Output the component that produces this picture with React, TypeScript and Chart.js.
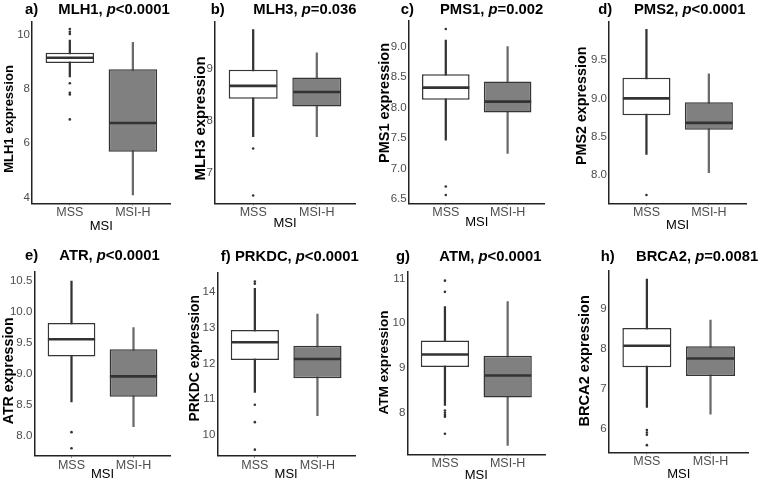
import React, { useEffect, useRef } from 'react';
import { Chart, registerables } from 'chart.js';

Chart.register(...registerables);

// ---------- data ----------
const GROUPS = ['MSS', 'MSI-H'];
const X_TITLE = 'MSI';
const LETTERS = ['a)', 'b)', 'c)', 'd)', 'e)', 'f)', 'g)', 'h)'];
const GENES = ['MLH1', 'MLH3', 'PMS1', 'PMS2', 'ATR', 'PRKDC', 'ATM', 'BRCA2'];
const P_TEXT = ['<0.0001', '=0.036', '=0.002', '<0.0001', '<0.0001', '<0.0001', '<0.0001', '=0.0081'];

// box statistics: [lower whisker, Q1, median, Q3, upper whisker]
const MLH1_MSS = [8.45, 8.96, 9.15, 9.34, 9.8];
const MLH1_MSIH = [4.1, 5.69, 6.75, 8.73, 9.72];
const MLH1_OUT_MSS = [10.21, 10.11, 10.03, 8.21, 7.86, 7.8, 6.88];
const MLH1_OUT_MSIH: number[] = [];
const MLH1_TICKS = ['4', '6', '8', '10'];
const MLH1_RANGE = [3.79, 10.48];

const MLH3_MSS = [7.7, 8.43, 8.68, 8.99, 9.77];
const MLH3_MSIH = [7.7, 8.28, 8.56, 8.84, 9.32];
const MLH3_OUT_MSS = [7.47, 6.56];
const MLH3_OUT_MSIH: number[] = [];
const MLH3_TICKS = ['7', '8', '9'];
const MLH3_RANGE = [6.41, 9.92];

const PMS1_MSS = [7.47, 8.13, 8.33, 8.55, 9.11];
const PMS1_MSIH = [7.25, 7.92, 8.1, 8.43, 9.0];
const PMS1_OUT_MSS = [9.29, 6.71, 6.57];
const PMS1_OUT_MSIH: number[] = [];
const PMS1_TICKS = ['6.5', '7.0', '7.5', '8.0', '8.5', '9.0'];
const PMS1_RANGE = [6.434, 9.426];

const PMS2_MSS = [8.27, 8.78, 9.0, 9.27, 9.9];
const PMS2_MSIH = [8.03, 8.59, 8.68, 8.95, 9.32];
const PMS2_OUT_MSS = [7.74];
const PMS2_OUT_MSIH: number[] = [];
const PMS2_TICKS = ['8.0', '8.5', '9.0', '9.5'];
const PMS2_RANGE = [7.631, 10.0];

const ATR_MSS = [8.55, 9.28, 9.56, 9.82, 10.5];
const ATR_MSIH = [8.15, 8.63, 8.96, 9.4, 9.75];
const ATR_OUT_MSS = [8.06, 7.8];
const ATR_OUT_MSIH: number[] = [];
const ATR_TICKS = ['8.0', '8.5', '9.0', '9.5', '10.0', '10.5'];
const ATR_RANGE = [7.68, 10.65];

const PRKDC_MSS = [11.19, 12.1, 12.6, 12.94, 14.11];
const PRKDC_MSIH = [10.54, 11.59, 12.13, 12.5, 13.39];
const PRKDC_OUT_MSS = [14.3, 14.24, 10.85, 10.36, 9.59];
const PRKDC_OUT_MSIH: number[] = [];
const PRKDC_TICKS = ['10', '11', '12', '13', '14'];
const PRKDC_RANGE = [9.42, 14.56];

const ATM_MSS = [8.16, 9.02, 9.3, 9.61, 10.37];
const ATM_MSIH = [7.27, 8.34, 8.83, 9.27, 10.48];
const ATM_OUT_MSS = [10.95, 10.7, 8.05, 8.0, 7.95, 7.91, 7.53];
const ATM_OUT_MSIH: number[] = [];
const ATM_TICKS = ['8', '9', '10', '11'];
const ATM_RANGE = [7.07, 11.15];

const BRCA2_MSS = [6.53, 7.54, 8.08, 8.53, 9.76];
const BRCA2_MSIH = [6.36, 7.32, 7.76, 8.07, 8.73];
const BRCA2_OUT_MSS = [5.96, 5.9, 5.84, 5.58];
const BRCA2_OUT_MSIH: number[] = [];
const BRCA2_TICKS = ['6', '7', '8', '9'];
const BRCA2_RANGE = [5.4, 9.97];

const PANEL_DATA = [
  { mss: MLH1_MSS, msih: MLH1_MSIH, outMss: MLH1_OUT_MSS, outMsih: MLH1_OUT_MSIH, ticks: MLH1_TICKS, range: MLH1_RANGE },
  { mss: MLH3_MSS, msih: MLH3_MSIH, outMss: MLH3_OUT_MSS, outMsih: MLH3_OUT_MSIH, ticks: MLH3_TICKS, range: MLH3_RANGE },
  { mss: PMS1_MSS, msih: PMS1_MSIH, outMss: PMS1_OUT_MSS, outMsih: PMS1_OUT_MSIH, ticks: PMS1_TICKS, range: PMS1_RANGE },
  { mss: PMS2_MSS, msih: PMS2_MSIH, outMss: PMS2_OUT_MSS, outMsih: PMS2_OUT_MSIH, ticks: PMS2_TICKS, range: PMS2_RANGE },
  { mss: ATR_MSS, msih: ATR_MSIH, outMss: ATR_OUT_MSS, outMsih: ATR_OUT_MSIH, ticks: ATR_TICKS, range: ATR_RANGE },
  { mss: PRKDC_MSS, msih: PRKDC_MSIH, outMss: PRKDC_OUT_MSS, outMsih: PRKDC_OUT_MSIH, ticks: PRKDC_TICKS, range: PRKDC_RANGE },
  { mss: ATM_MSS, msih: ATM_MSIH, outMss: ATM_OUT_MSS, outMsih: ATM_OUT_MSIH, ticks: ATM_TICKS, range: ATM_RANGE },
  { mss: BRCA2_MSS, msih: BRCA2_MSIH, outMss: BRCA2_OUT_MSS, outMsih: BRCA2_OUT_MSIH, ticks: BRCA2_TICKS, range: BRCA2_RANGE },
];

// ---------- layout (pixel geometry of each panel's plot area and titles) ----------
const LAYOUT = [
  { left: 32, right: 170.7, top: 21.7, bottom: 203.3, yTitleCx: 9.3, yTitleCy: 119, yTitleSize: 13, xTitleOff: 23.4, letterX: 25, mainX: 58.3, baseline: 13.5 },
  { left: 215, right: 355, top: 21.7, bottom: 203.3, yTitleCx: 200.5, yTitleCy: 118.5, yTitleSize: 15, xTitleOff: 20, letterX: 210.7, mainX: 253.3, baseline: 13.5 },
  { left: 408.7, right: 544.7, top: 20.7, bottom: 203.3, yTitleCx: 385, yTitleCy: 103, yTitleSize: 14.5, xTitleOff: 19.5, letterX: 400.7, mainX: 440, baseline: 13.5 },
  { left: 609, right: 746.3, top: 21.7, bottom: 203.3, yTitleCx: 582, yTitleCy: 105.8, yTitleSize: 14.3, xTitleOff: 21.7, letterX: 598.3, mainX: 634, baseline: 13.5 },
  { left: 34.3, right: 170.7, top: 271.7, bottom: 455.7, yTitleCx: 9, yTitleCy: 370.8, yTitleSize: 14.2, xTitleOff: 18.5, letterX: 25, mainX: 59.3, baseline: 260 },
  { left: 217.3, right: 355, top: 272.3, bottom: 455.7, yTitleCx: 195, yTitleCy: 358.3, yTitleSize: 13.9, xTitleOff: 18.5, letterX: 220.7, mainX: 235, baseline: 260.5 },
  { left: 407.3, right: 545.3, top: 271.7, bottom: 454.3, yTitleCx: 384, yTitleCy: 362.5, yTitleSize: 13.6, xTitleOff: 21.5, letterX: 396, mainX: 439.3, baseline: 260.5 },
  { left: 608.7, right: 748.7, top: 270.7, bottom: 452.3, yTitleCx: 584.7, yTitleCy: 360.8, yTitleSize: 14.6, xTitleOff: 21.7, letterX: 600.7, mainX: 636, baseline: 260.5 },
];

const FAMILY = '"Liberation Sans", Arial, Helvetica, sans-serif';
const TITLE_SIZE = 14.8;

function makeGeometry(L: any) {
  const canvasLeft = Math.round(L.left - 36);
  const canvasTop = Math.round(L.top - 30);
  const width = Math.ceil(L.right + 14 - canvasLeft);
  const height = Math.ceil(L.bottom + 40 - canvasTop);
  return {
    canvasLeft,
    canvasTop,
    width,
    height,
    yAxisWidth: L.left - canvasLeft,
    padTop: L.top - canvasTop,
    padRight: width - (L.right - canvasLeft),
    xAxisHeight: height - (L.bottom - canvasTop),
  };
}

function Panel({ idx }: { idx: number }) {
  const ref = useRef<HTMLCanvasElement | null>(null);
  const L = LAYOUT[idx];
  const G = makeGeometry(L);

  useEffect(() => {
    const canvas = ref.current;
    if (!canvas) return;
    const D = PANEL_DATA[idx];
    const stats = [D.mss, D.msih];
    const tickLabels = D.ticks;

    const titlePlugin = {
      id: 'panelTitle' + idx,
      afterDraw(chart: any) {
        const ctx = chart.ctx;
        ctx.save();
        ctx.fillStyle = '#000';
        ctx.textAlign = 'left';
        ctx.textBaseline = 'alphabetic';
        const bold = `bold ${TITLE_SIZE}px ${FAMILY}`;
        const boldItalic = `italic bold ${TITLE_SIZE}px ${FAMILY}`;
        const y = L.baseline - G.canvasTop;
        ctx.font = bold;
        ctx.fillText(LETTERS[idx], L.letterX - G.canvasLeft, y);
        let x = L.mainX - G.canvasLeft;
        const parts: [string, string][] = [
          [GENES[idx] + ', ', bold],
          ['p', boldItalic],
          [P_TEXT[idx], bold],
        ];
        for (const [t, f] of parts) {
          ctx.font = f;
          ctx.fillText(t, x, y);
          x += ctx.measureText(t).width;
        }
        ctx.restore();

        // y-axis title (rotated)
        ctx.save();
        ctx.translate(L.yTitleCx - G.canvasLeft, L.yTitleCy - G.canvasTop);
        ctx.rotate(-Math.PI / 2);
        ctx.fillStyle = '#000';
        ctx.textAlign = 'center';
        ctx.textBaseline = 'middle';
        ctx.font = `bold ${L.yTitleSize}px ${FAMILY}`;
        ctx.fillText(GENES[idx] + ' expression', 0, 0);
        ctx.restore();
      },
    };

    const xTitleLH = 13 * 1.2;

    const chart = new Chart(canvas, {
      type: 'bar',
      data: {
        datasets: [
          {
            type: 'bar',
            label: 'whisker',
            data: GROUPS.map((_, i) => ({ x: i + 1, y: [stats[i][0], stats[i][4]] })),
            backgroundColor: ['#333333', '#6a6a6a'],
            borderWidth: 0,
            barThickness: 1.6,
            grouped: false,
            order: 3,
          } as any,
          {
            type: 'bar',
            label: 'box',
            data: GROUPS.map((_, i) => ({ x: i + 1, y: [stats[i][1], stats[i][3]] })),
            backgroundColor: ['#ffffff', '#808080'],
            borderColor: '#353535',
            borderWidth: 1.5,
            borderSkipped: false,
            grouped: false,
            categoryPercentage: 1,
            barPercentage: 0.77,
            order: 2,
          } as any,
          {
            type: 'line',
            label: 'median',
            data: GROUPS.map((_, i) => ({ x: i + 1, y: stats[i][2] })),
            showLine: false,
            pointStyle: 'line',
            pointRadius: 23.6,
            pointBorderWidth: 2.6,
            pointBorderColor: '#333333',
            order: 1,
          } as any,
          {
            type: 'line',
            label: 'outliers',
            data: [
              ...D.outMss.map((v) => ({ x: 1, y: v })),
              ...D.outMsih.map((v) => ({ x: 2, y: v })),
            ],
            showLine: false,
            pointStyle: 'circle',
            pointRadius: 1.3,
            pointBorderWidth: 0,
            pointBackgroundColor: '#333333',
            order: 0,
          } as any,
        ],
      },
      options: {
        animation: false,
        responsive: false,
        events: [],
        layout: { autoPadding: false, padding: { left: 0, top: G.padTop, right: G.padRight, bottom: 0 } },
        plugins: {
          legend: { display: false },
          tooltip: { enabled: false },
          title: { display: false },
        },
        scales: {
          x: {
            type: 'linear',
            min: 0.4,
            max: 2.6,
            offset: false,
            afterBuildTicks: (s: any) => {
              s.ticks = GROUPS.map((_, i) => ({ value: i + 1 }));
            },
            afterFit: (s: any) => {
              s.height = G.xAxisHeight;
            },
            ticks: {
              callback: (v: any) => GROUPS[Math.round(Number(v)) - 1] ?? '',
              font: { family: FAMILY, size: 12.5, lineHeight: 1.2 },
              color: '#4d4d4d',
              padding: 0,
              maxRotation: 0,
              autoSkip: false,
            },
            grid: { offset: false, drawOnChartArea: false, drawTicks: true, tickLength: 2, color: '#555555', lineWidth: 1 },
            border: { display: true, color: '#222222', width: 1.5 },
            title: {
              display: true,
              text: X_TITLE,
              color: '#000',
              font: { family: FAMILY, size: 13, lineHeight: 1.2 },
              padding: { top: 0, bottom: G.xAxisHeight - L.xTitleOff - xTitleLH / 2 },
            },
          },
          y: {
            type: 'linear',
            min: D.range[0],
            max: D.range[1],
            offset: false,
            afterBuildTicks: (s: any) => {
              s.ticks = tickLabels.map((t) => ({ value: parseFloat(t) }));
            },
            afterFit: (s: any) => {
              s.width = G.yAxisWidth;
            },
            ticks: {
              callback: (v: any) => tickLabels.find((t) => Math.abs(parseFloat(t) - Number(v)) < 1e-9) ?? '',
              font: { family: FAMILY, size: 11.5, lineHeight: 1.2 },
              color: '#4d4d4d',
              padding: 2,
              autoSkip: false,
            },
            grid: { display: false, drawTicks: false },
            border: { display: true, color: '#222222', width: 1.5 },
            title: { display: false },
          },
        },
      } as any,
      plugins: [titlePlugin],
    });

    return () => chart.destroy();
  }, [idx]);

  return (
    <canvas
      ref={ref}
      width={G.width}
      height={G.height}
      style={{
        position: 'absolute',
        left: G.canvasLeft,
        top: G.canvasTop,
        width: G.width,
        height: G.height,
      }}
    />
  );
}

export default function App() {
  return (
    <div
      style={{
        position: 'fixed',
        left: 0,
        top: 0,
        width: 758,
        height: 482,
        overflow: 'hidden',
        background: '#ffffff',
      }}
    >
      {LAYOUT.map((_, i) => (
        <Panel key={i} idx={i} />
      ))}
    </div>
  );
}
